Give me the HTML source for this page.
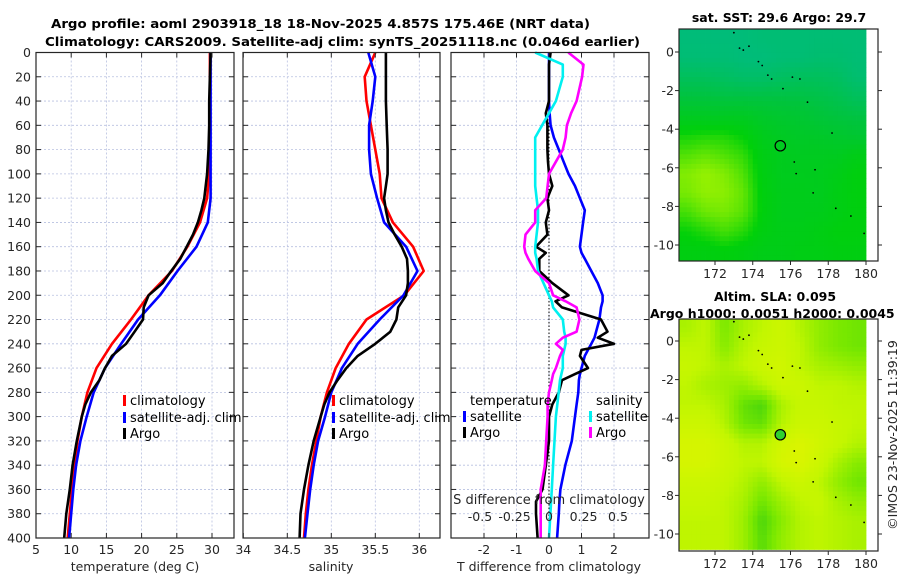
<!DOCTYPE html>
<html><head><meta charset="utf-8"><style>
html,body{margin:0;padding:0;background:#fff}
svg{display:block;font-family:"DejaVu Sans","Liberation Sans",sans-serif}
</style></head><body>
<svg id="fig" width="900" height="580" viewBox="0 0 900 580" xmlns="http://www.w3.org/2000/svg">
<text x="51" y="28" font-size="12.5" font-weight="bold" textLength="539" lengthAdjust="spacingAndGlyphs">Argo profile: aoml 2903918_18 18-Nov-2025 4.857S 175.46E (NRT data)</text>
<text x="45" y="46" font-size="12.5" font-weight="bold" textLength="595" lengthAdjust="spacingAndGlyphs">Climatology: CARS2009. Satellite-adj clim: synTS_20251118.nc (0.046d earlier)</text>
<text x="779" y="22" font-size="12.5" font-weight="bold" text-anchor="middle">sat. SST: 29.6 Argo: 29.7</text>
<text x="775" y="301" font-size="12.5" font-weight="bold" text-anchor="middle">Altim. SLA: 0.095</text>
<text x="650" y="318" font-size="12.5" font-weight="bold">Argo h1000: 0.0051 h2000: 0.0045</text>
<text transform="translate(897,435) rotate(-90)" font-size="12.5" fill="#262626" text-anchor="middle">©IMOS 23-Nov-2025 11:39:19</text>
<g id="g"></g>
</svg>
<script>
// ---------- data ----------
const depthClim=[0,20,40,60,80,100,120,140,160,180,200,220,240,260,280,300,320,340,360,380,400];
const tempClim=[29.7,29.7,29.7,29.7,29.7,29.6,29.3,28.3,26.5,24.3,21.0,18.5,15.8,13.6,12.3,11.5,10.9,10.5,10.1,9.8,9.5];
const tempSat=[29.8,29.8,29.8,29.8,29.8,29.8,29.8,29.4,27.8,25.1,22.6,19.5,17.1,14.8,13.2,12.2,11.3,10.7,10.3,10.0,9.7];
const depthArgo=[0,20,40,60,80,100,110,120,130,140,150,160,170,180,190,200,210,220,230,240,250,260,270,280,290,300,320,340,360,380,400];
const tempArgo=[29.8,29.7,29.6,29.6,29.5,29.3,29.1,28.9,28.5,28.0,27.3,26.4,25.5,24.2,23.0,21.0,20.3,20.2,19.0,17.8,15.8,14.8,14.0,12.8,12.0,11.5,10.8,10.2,9.8,9.3,9.0];
const salClim=[35.5,35.38,35.4,35.45,35.5,35.55,35.57,35.7,35.93,36.05,35.83,35.4,35.2,35.05,34.95,34.88,34.83,34.78,34.74,34.71,34.69];
const salSat=[35.42,35.5,35.47,35.43,35.43,35.45,35.52,35.6,35.85,35.98,35.82,35.55,35.3,35.12,35.0,34.93,34.85,34.8,34.76,34.73,34.7];
const salArgo=[35.62,35.62,35.62,35.63,35.64,35.64,35.62,35.6,35.62,35.65,35.72,35.8,35.86,35.87,35.87,35.85,35.76,35.74,35.67,35.5,35.3,35.17,35.07,34.98,34.92,34.88,34.8,34.74,34.69,34.65,34.64];
const depthDiff=[0,10,20,40,50,60,70,80,90,100,110,120,130,140,150,160,165,170,180,190,200,205,210,220,230,235,240,245,250,260,265,270,280,290,300,320,340,360,370,380,400];
const tDiffSat=[0,0,0,0,0.02,0.05,0.15,0.3,0.45,0.6,0.8,0.95,1.1,1.05,1.0,0.95,1.0,1.1,1.3,1.5,1.65,1.65,1.6,1.55,1.45,1.4,1.3,1.2,1.1,1.0,0.95,0.92,0.9,0.85,0.8,0.7,0.5,0.35,0.32,0.3,0.25];
const tDiffArgo=[0.05,0.0,0.0,0.0,-0.1,-0.05,-0.05,-0.05,-0.03,0.0,0.1,-0.05,0.0,-0.1,-0.05,-0.4,-0.1,-0.3,-0.3,0.1,0.6,0.2,0.4,1.6,1.8,1.5,2.0,1.0,0.95,1.2,0.8,0.4,0.3,0.1,0.0,0.0,-0.1,-0.2,-0.4,-0.4,-0.35];
const sDiffSat=[-0.1,0.1,0.1,0.05,0.0,-0.05,-0.1,-0.1,-0.1,-0.1,-0.1,-0.09,-0.08,-0.08,-0.09,-0.1,-0.1,-0.09,-0.08,-0.04,0.0,0.02,0.03,0.1,0.11,0.12,0.12,0.11,0.1,0.1,0.09,0.08,0.07,0.06,0.05,0.04,0.03,0.02,0.015,0.01,0.0];
const sDiffArgo=[0.14,0.25,0.24,0.2,0.16,0.13,0.12,0.1,0.05,0.0,-0.01,-0.02,-0.1,-0.1,-0.17,-0.18,-0.17,-0.15,-0.1,0.0,0.03,0.12,0.2,0.22,0.2,0.1,0.05,0.1,0.08,0.05,0.03,0.02,0.0,-0.01,-0.01,-0.02,-0.03,-0.06,-0.06,-0.06,-0.06];
const depthTicks=[0,20,40,60,80,100,120,140,160,180,200,220,240,260,280,300,320,340,360,380,400];
const tempTicks=[5,10,15,20,25,30];
const salTicks=[34,34.5,35,35.5,36];
const salTickLabels=["34","34.5","35","35.5","36"];
const tDiffTicks=[-2,-1,0,1,2];
const sDiffTicks=[-0.5,-0.25,0,0.25,0.5];
const sDiffTickLabels=["-0.5","-0.25","0","0.25","0.5"];
// maps: rows lat 0.7..-10.3 (1 deg), cols lon 170.5..179.5
const mapLons=[170.5,171.5,172.5,173.5,174.5,175.5,176.5,177.5,178.5,179.5];
const mapLats=[0.7,-0.3,-1.3,-2.3,-3.3,-4.3,-5.3,-6.3,-7.3,-8.3,-9.3,-10.3];
const sstGrid=[
[0.08,0.08,0.08,0.08,0.1,0.1,0.1,0.1,0.1,0.1],
[0.1,0.1,0.1,0.08,0.08,0.1,0.1,0.12,0.12,0.1],
[0.2,0.2,0.18,0.15,0.15,0.18,0.2,0.2,0.18,0.12],
[0.32,0.32,0.3,0.3,0.3,0.3,0.3,0.28,0.25,0.2],
[0.5,0.5,0.5,0.5,0.45,0.42,0.4,0.35,0.32,0.3],
[0.7,0.72,0.72,0.66,0.55,0.5,0.47,0.46,0.43,0.4],
[0.82,0.86,0.82,0.76,0.6,0.54,0.52,0.52,0.52,0.58],
[0.92,0.96,0.92,0.82,0.62,0.54,0.54,0.54,0.58,0.64],
[0.9,0.95,0.94,0.86,0.64,0.56,0.56,0.54,0.6,0.64],
[0.8,0.88,0.9,0.84,0.65,0.56,0.56,0.56,0.6,0.64],
[0.68,0.74,0.8,0.74,0.62,0.58,0.58,0.6,0.64,0.64],
[0.62,0.62,0.65,0.62,0.58,0.58,0.6,0.6,0.62,0.62]];
const slaGrid=[
[0.55,0.65,0.35,0.55,0.65,0.75,0.6,0.45,0.35,0.3],
[0.65,0.65,0.4,0.6,0.7,0.75,0.65,0.45,0.35,0.3],
[0.7,0.65,0.55,0.65,0.75,0.8,0.65,0.55,0.5,0.45],
[0.65,0.55,0.5,0.45,0.6,0.75,0.75,0.65,0.65,0.6],
[0.65,0.65,0.55,0.25,0.15,0.55,0.7,0.7,0.65,0.65],
[0.75,0.75,0.6,0.3,0.25,0.6,0.75,0.75,0.7,0.65],
[0.85,0.85,0.75,0.6,0.6,0.8,0.9,0.8,0.7,0.6],
[0.85,0.85,0.75,0.65,0.65,0.85,0.9,0.75,0.55,0.4],
[0.75,0.75,0.7,0.6,0.45,0.65,0.75,0.65,0.45,0.3],
[0.7,0.7,0.65,0.55,0.3,0.5,0.65,0.7,0.55,0.45],
[0.65,0.65,0.65,0.5,0.15,0.4,0.6,0.65,0.6,0.55],
[0.65,0.65,0.65,0.5,0.2,0.45,0.6,0.65,0.6,0.55]];
const mapLonTicks=[172,174,176,178,180];
const mapLatTicks=[0,-2,-4,-6,-8,-10];
const argoLon=175.46, argoLat=-4.857;
const islandLons=[173.0,173.3,173.5,173.8,174.3,174.5,174.8,175.0,175.6,176.1,176.5,176.9,178.2,176.2,176.3,177.3,177.2,178.4,179.2,179.9];
const islandLats=[1.0,0.2,0.1,0.3,-0.5,-0.7,-1.2,-1.4,-1.9,-1.3,-1.4,-2.6,-4.2,-5.7,-6.3,-6.1,-7.3,-8.1,-8.5,-9.4];

// ---------- helpers ----------
const NS="http://www.w3.org/2000/svg";
const G=document.getElementById('g');
function mk(tag,attrs,parent){const e=document.createElementNS(NS,tag);for(const k in attrs)e.setAttribute(k,attrs[k]);(parent||G).appendChild(e);return e;}
function lin(d0,d1,r0,r1){return v=>r0+(v-d0)*(r1-r0)/(d1-d0);}
const Y0=52.5,Y1=538;
const yD=lin(0,400,Y0,Y1);
const TXT="#262626";

function frame(x0,x1,name){
  const r=mk('rect',{x:x0,y:Y0,width:x1-x0,height:Y1-Y0,fill:'#fff',stroke:'none'});
  
  
  for(const d of depthTicks){
    const y=yD(d);
    if(d>0&&d<400){const gl=mk('line',{x1:x0,x2:x1,y1:y,y2:y,stroke:'#b8c0e0','stroke-width':0.8,'stroke-dasharray':'2,2'});
      
      }
  }
}
function vgrid(x,name){const l=mk('line',{x1:x,x2:x,y1:Y0,y2:Y1,stroke:'#b8c0e0','stroke-width':0.8,'stroke-dasharray':'2,2'});
  
  }
function border(x0,x1,name){
  for(const d of depthTicks){const y=yD(d);
    mk('line',{x1:x0,x2:x0+5,y1:y,y2:y,stroke:'#262626','stroke-width':1});
    mk('line',{x1:x1-5,x2:x1,y1:y,y2:y,stroke:'#262626','stroke-width':1});}
  const b=mk('rect',{x:x0,y:Y0,width:x1-x0,height:Y1-Y0,fill:'none',stroke:'#262626','stroke-width':1.2});
  
  
}
function xtick(x,label,name,y){
  mk('line',{x1:x,x2:x,y1:Y1,y2:Y1-5,stroke:'#262626','stroke-width':1});
  mk('line',{x1:x,x2:x,y1:Y0,y2:Y0+5,stroke:'#262626','stroke-width':1});
  const t=mk('text',{x:x,y:y||554,'font-size':12.5,fill:TXT,'text-anchor':'middle'});t.textContent=label;
  
  
}
function line(xs,ys,sx,color,name,w){
  const d=xs.map((v,i)=>(i?'L':'M')+sx(v).toFixed(1)+','+yD(ys[i]).toFixed(1)).join('');
  const p=mk('path',{d:d,fill:'none',stroke:color,'stroke-width':w||2.6,'stroke-linejoin':'round'});
  
  
}
function legendEntry(x,y,color,label,name){
  const r=mk('rect',{x:x,y:y-10,width:3,height:11,fill:color});
  
  
  const t=mk('text',{x:x+7,y:y,'font-size':13,fill:'#000'});t.textContent=label;
  
  
}
function label(x,y,txt,name,anchor){const t=mk('text',{x:x,y:y,'font-size':12.5,fill:TXT,'text-anchor':anchor||'middle'});t.textContent=txt;
  
  return t;}

// ---------- panel 1: temperature ----------
const P1=[36,234]; const xT=lin(5,30,36,212);
frame(P1[0],P1[1],'temperature');
tempTicks.slice(1).forEach(v=>vgrid(xT(v),'temperature-gridline'));
line(tempClim,depthClim,xT,'#ff0000','temperature-climatology-line');
line(tempSat,depthClim,xT,'#0000ff','temperature-satellite-line');
line(tempArgo,depthArgo,xT,'#000000','temperature-argo-line');
border(P1[0],P1[1],'temperature');
tempTicks.forEach(v=>xtick(xT(v),String(v),'temperature-tick-label'));
depthTicks.forEach(d=>label(31,yD(d)+4.5,String(d),'depth-tick-label','end'));
label(135,571,'temperature (deg C)','temperature-axis-title');
legendEntry(123,405,'#ff0000','climatology','legend-climatology');
legendEntry(123,422,'#0000ff','satellite-adj. clim','legend-satellite-adj-clim');
legendEntry(123,438,'#000000','Argo','legend-argo');

// ---------- panel 2: salinity ----------
const P2=[243,440]; const xS=lin(34,36,243.3,419.3);
frame(P2[0],P2[1],'salinity');
salTicks.slice(1).forEach(v=>vgrid(xS(v),'salinity-gridline'));
line(salClim,depthClim,xS,'#ff0000','salinity-climatology-line');
line(salSat,depthClim,xS,'#0000ff','salinity-satellite-line');
line(salArgo,depthArgo,xS,'#000000','salinity-argo-line');
border(P2[0],P2[1],'salinity');
salTicks.forEach((v,i)=>xtick(xS(v),salTickLabels[i],'salinity-tick-label'));
label(331,571,'salinity','salinity-axis-title');
legendEntry(332,405,'#ff0000','climatology','legend-climatology-2');
legendEntry(332,422,'#0000ff','satellite-adj. clim','legend-satellite-adj-clim-2');
legendEntry(332,438,'#000000','Argo','legend-argo-2');

// ---------- panel 3: differences ----------
const P3=[451,649]; const xTd=lin(0,1,549,581.5); const xSd=lin(0,0.5,549,618);
frame(P3[0],P3[1],'difference');
tDiffTicks.forEach(v=>vgrid(xTd(v),'t-difference-gridline'));
const zl=mk('line',{x1:549,x2:549,y1:Y0,y2:Y1,stroke:'#000','stroke-width':1,'stroke-dasharray':'1.5,2'});


line(tDiffSat,depthDiff,xTd,'#0000ff','t-difference-satellite-line');
line(tDiffArgo,depthDiff,xTd,'#000000','t-difference-argo-line');
line(sDiffSat,depthDiff,xSd,'#00f0f0','s-difference-satellite-line');
line(sDiffArgo,depthDiff,xSd,'#ff00ff','s-difference-argo-line');
border(P3[0],P3[1],'difference');
tDiffTicks.forEach(v=>xtick(xTd(v),String(v),'t-difference-tick-label'));
label(549,571,'T difference from climatology','t-difference-axis-title');
label(549,504,'S difference from climatology','s-difference-axis-title').setAttribute('font-size','13');
sDiffTicks.forEach((v,i)=>label(xSd(v),521,sDiffTickLabels[i],'s-difference-tick-label'));
const lt=mk('text',{x:470,y:405,'font-size':13});lt.textContent='temperature';


const ls=mk('text',{x:596,y:405,'font-size':13});ls.textContent='salinity';


legendEntry(463,421,'#0000ff','satellite','legend-t-satellite');
legendEntry(463,437,'#000000','Argo','legend-t-argo');
legendEntry(589,421,'#00f0f0','satellite','legend-s-satellite');
legendEntry(589,437,'#ff00ff','Argo','legend-s-argo');

// ---------- maps ----------
function mix(a,b,t){return a.map((v,i)=>Math.round(v+(b[i]-v)*t));}
function cmap(stops,v){v=Math.max(0,Math.min(1,v));const n=stops.length-1;const i=Math.min(n-1,Math.floor(v*n));const c=mix(stops[i],stops[i+1],v*n-i);return 'rgb('+c.join(',')+')';}
const sstStops=[[0,186,140],[0,196,60],[0,208,10],[170,245,0]];
const slaStops=[[40,200,20],[120,232,0],[195,246,0],[228,245,0]];
function sample(grid,r,c){r=Math.max(0,Math.min(grid.length-1,r));c=Math.max(0,Math.min(grid[0].length-1,c));
  const r0=Math.floor(r),c0=Math.floor(c),r1=Math.min(grid.length-1,r0+1),c1=Math.min(grid[0].length-1,c0+1),fr=r-r0,fc=c-c0;
  return grid[r0][c0]*(1-fr)*(1-fc)+grid[r0][c1]*(1-fr)*fc+grid[r1][c0]*fr*(1-fc)+grid[r1][c1]*fr*fc;}
function drawMap(grid,stops,yTop,yZero,yTen,name,fillCircle){
  const X0=679,X1=878,Yt=yTop,Yb=yTop+232;
  const xL=lin(172,180,715,866), yL=lin(0,-10,yZero,yTen);
  const gm=mk('g',{});
  
  
  mk('rect',{x:X0,y:Yt,width:X1-X0,height:Yb-Yt,fill:'#fff'},gm);
  const sub=4, dLon=mapLons[1]-mapLons[0], dLat=mapLats[0]-mapLats[1];
  for(let i=0;i<mapLats.length;i++)for(let j=0;j<mapLons.length;j++)for(let a=0;a<sub;a++)for(let b=0;b<sub;b++){
    const lat=mapLats[i]+dLat*(0.5-(a+0.5)/sub), lon=mapLons[j]+dLon*((b+0.5)/sub-0.5);
    const rr=(mapLats[0]-lat)/dLat, cc=(lon-mapLons[0])/dLon;
    const v=sample(grid,rr,cc);
    let x0=xL(lon-dLon/(2*sub)),x1=xL(lon+dLon/(2*sub)),y0=yL(lat+dLat/(2*sub)),y1=yL(lat-dLat/(2*sub));
    x0=Math.max(x0,X0);x1=Math.min(x1,xL(180.1));y0=Math.max(y0,Yt);y1=Math.min(y1,Yb);
    if(x1<=x0||y1<=y0)continue;
    const c=mk('rect',{x:x0.toFixed(2),y:y0.toFixed(2),width:(x1-x0+0.4).toFixed(2),height:(y1-y0+0.4).toFixed(2),fill:cmap(stops,v)},gm);
    
    
  }
  islandLons.forEach((lo,k)=>{const d=mk('circle',{cx:xL(lo),cy:yL(islandLats[k]),r:0.9,fill:'#000'},gm);
    
    });
  const ci=mk('circle',{cx:xL(argoLon),cy:yL(argoLat),r:5.2,fill:fillCircle||'none',stroke:'#000','stroke-width':1.2},gm);
  
  
  mapLatTicks.forEach(v=>{const y=yL(v);
    mk('line',{x1:X0,x2:X0-4,y1:y,y2:y,stroke:'#262626'},gm);
    mk('line',{x1:X1,x2:X1+4,y1:y,y2:y,stroke:'#262626'},gm);
    const t=mk('text',{x:674,y:y+4.5,'font-size':12.5,fill:TXT,'text-anchor':'end'},gm);t.textContent=String(v);
    
    });
  mapLonTicks.forEach(v=>{const x=xL(v);
    mk('line',{x1:x,x2:x,y1:Yb,y2:Yb+4,stroke:'#262626'},gm);
    const t=mk('text',{x:x,y:Yb+17,'font-size':12.5,fill:TXT,'text-anchor':'middle'},gm);t.textContent=String(v);
    
    });
  mk('rect',{x:X0,y:Yt,width:X1-X0,height:Yb-Yt,fill:'none',stroke:'#262626','stroke-width':1.2},gm);
}
drawMap(sstGrid,sstStops,29,52,245,'sst-map');
drawMap(slaGrid,slaStops,319,341,534,'sla-map','#30d030');
</script>
</body></html>
